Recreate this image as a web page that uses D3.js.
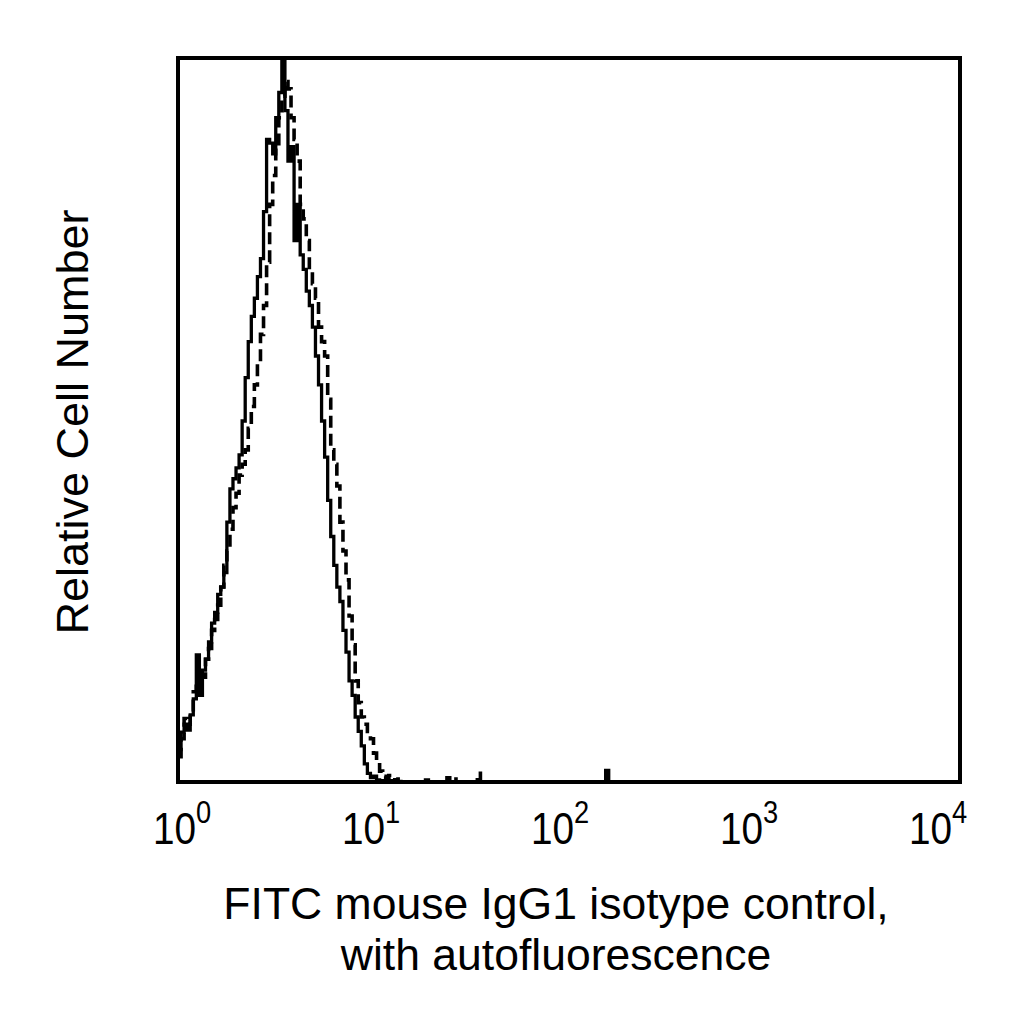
<!DOCTYPE html>
<html>
<head>
<meta charset="utf-8">
<script src="https://cdn.jsdelivr.net/npm/d3@7"></script>
<style>
  html, body { margin: 0; padding: 0; background: #fff; }
  text { font-family: "Liberation Sans", Arial, sans-serif; fill: #000; }
</style>
</head>
<body>
<div id="chart"></div>
<script>
// histogram channels: 256 channels over 4 log decades, only the occupied low channels listed
const channelCount = 256;
const decades = [0, 4];
const tickExponents = [0, 1, 2, 3, 4];

// solid line (stained sample)
const solidCounts = [
  4.5, 6.9, 8.0, 7.2, 9.3, 11.5, 17.6, 12.0, 15.5, 17.0,
  19.4, 22.0, 23.5, 26.0, 27.0, 29.0, 36.0, 40.6, 42.0, 43.5,
  45.3, 50.0, 56.0, 61.0, 64.5, 67.0, 70.0, 72.5, 79.0, 89.0,
  88.5, 87.0, 92.0, 95.5, 100.0, 93.0, 86.0, 88.0, 75.0, 80.0,
  73.0, 71.0, 68.0, 66.0, 63.0, 59.0, 55.0, 50.0, 45.0, 39.0,
  34.0, 30.0, 27.0, 25.0, 21.0, 18.0, 14.0, 12.0, 9.0, 7.0,
  5.0, 2.5, 1.2, 0.6, 0.8, 0.3, 0.2, 0, 0.3, 0,
  0.2, 0, 0.1
];
// dashed line (autofluorescence)
const dashedCounts = [
  3.5, 6.0, 8.8, 8.0, 10.0, 12.5, 14.0, 15.5, 14.5, 17.0,
  18.5, 21.0, 22.5, 24.5, 27.0, 30.0, 32.0, 35.0, 38.0, 40.0,
  42.5, 44.0, 46.0, 49.0, 52.0, 55.0, 58.0, 62.0, 66.0, 72.0,
  80.0, 84.0, 88.0, 92.0, 95.0, 97.0, 96.0, 92.0, 89.0, 86.0,
  80.0, 78.0, 75.0, 71.0, 69.0, 67.0, 63.0, 61.0, 59.0, 53.0,
  46.0, 44.0, 41.0, 36.0, 32.0, 28.0, 23.0, 19.0, 14.0, 11.0,
  9.0, 8.0, 7.0, 6.0, 4.0, 3.0, 1.5, 0.8, 0.5, 0.9,
  0.3, 0, 0.4
];
// isolated events further out: [channel, count]
const solidTail = [[81, 0.3], [88, 0.6], [140, 1.6]];
const dashedTail = [[98, 1.2], [90, 0.4]];

const W = 1024, H = 1024;
const box = { left: 178, right: 960, top: 58, bottom: 782 };

const svg = d3.select('#chart').append('svg')
  .attr('width', W).attr('height', H);

const x = d3.scaleLog()
  .domain([Math.pow(10, decades[0]), Math.pow(10, decades[1])])
  .range([box.left, box.right]);

const y = d3.scaleLinear()
  .domain([0, 100])
  .range([box.bottom, box.top + 2]);

// the printed exponent labels sit on a slightly tighter spacing than the decades
const labelX = d3.scaleLinear()
  .domain([tickExponents[0], tickExponents[tickExponents.length - 1]])
  .range([182, 938]);

function fullChannels(counts, tail) {
  const all = new Array(channelCount).fill(0);
  counts.forEach((c, i) => { all[i] = c; });
  tail.forEach(([ch, c]) => { all[ch] = c; });
  return all;
}

function stepPoints(all) {
  const step = (decades[1] - decades[0]) / channelCount;
  const pts = all.map((c, i) => [Math.pow(10, decades[0] + i * step), c]);
  pts.push([Math.pow(10, decades[1]), all[all.length - 1]]);
  return pts;
}

svg.append('defs').append('clipPath').attr('id', 'plotclip')
  .append('rect')
  .attr('x', box.left).attr('y', box.top)
  .attr('width', box.right - box.left).attr('height', box.bottom - box.top);

const line = d3.line()
  .x(d => x(d[0]))
  .y(d => y(d[1]))
  .curve(d3.curveStepAfter);

const plot = svg.append('g').attr('clip-path', 'url(#plotclip)');

plot.append('path')
  .datum(stepPoints(fullChannels(dashedCounts, dashedTail)))
  .attr('d', line)
  .attr('fill', 'none')
  .attr('stroke', '#000')
  .attr('stroke-width', 3.6)
  .attr('stroke-dasharray', '12,6');

plot.append('path')
  .datum(stepPoints(fullChannels(solidCounts, solidTail)))
  .attr('d', line)
  .attr('fill', 'none')
  .attr('stroke', '#000')
  .attr('stroke-width', 3.3);

// frame
svg.append('rect')
  .attr('x', box.left).attr('y', box.top)
  .attr('width', box.right - box.left).attr('height', box.bottom - box.top)
  .attr('fill', 'none')
  .attr('stroke', '#000')
  .attr('stroke-width', 4);

// tick labels 10^n
const tickLabels = svg.append('g');
tickExponents.forEach(e => {
  const t = tickLabels.append('text')
    .attr('transform', `translate(${labelX(e)},844) scale(0.88,1)`)
    .attr('text-anchor', 'middle')
    .attr('font-size', 44);
  t.append('tspan').text('10');
  t.append('tspan').attr('dy', -21).attr('font-size', 31).text(String(e));
});

// x axis title
const xTitle = svg.append('text')
  .attr('text-anchor', 'middle')
  .attr('font-size', 44.5);
xTitle.append('tspan').attr('x', 556).attr('y', 919).text('FITC mouse IgG1 isotype control,');
xTitle.append('tspan').attr('x', 556).attr('y', 970).text('with autofluorescence');

// y axis title
svg.append('text')
  .attr('transform', 'translate(88,422) rotate(-90)')
  .attr('text-anchor', 'middle')
  .attr('font-size', 45)
  .text('Relative Cell Number');
</script>
</body>
</html>
